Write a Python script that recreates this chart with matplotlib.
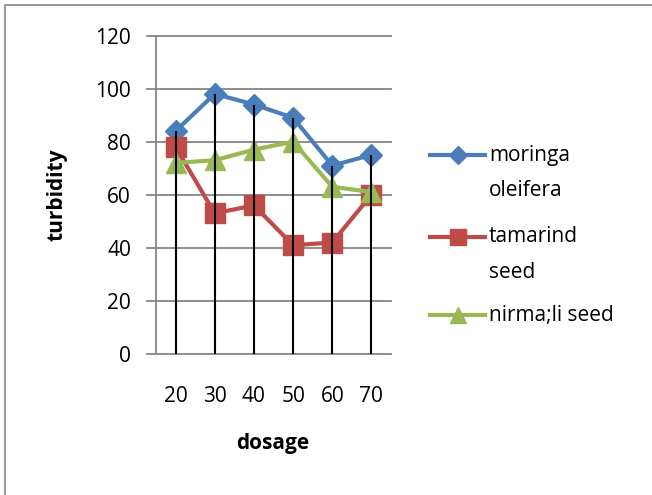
import numpy as np
import matplotlib.pyplot as plt
from matplotlib.patches import Rectangle
from matplotlib.lines import Line2D

plt.rcParams['font.family'] = ['Open Sans', 'DejaVu Sans']

dosage = ['20', '30', '40', '50', '60', '70']
moringa = [84, 98, 94, 89, 71, 75]
tamarind = [78, 53, 56, 41, 42, 60]
nirmali = [72, 73, 77, 80, 63, 61]
labels = ['moringa\noleifera', 'tamarind\nseed', 'nirma;li seed']

blue = '#4a7ebb'
red = '#be4b48'
green = '#98b954'
grid = '#868686'
fs = 15

W, H = 652, 495
fig = plt.figure(figsize=(W / 100, H / 100), dpi=100)
ax = fig.add_axes([156 / W, 1 - 354 / H, 235 / W, (354 - 35.5) / H])

x = np.arange(len(dosage))

# horizontal gridlines that also stick out to the left as tick marks
for v in range(0, 121, 20):
    ax.plot([-0.72, 5.5], [v, v], color=grid, lw=1.3, clip_on=False, zorder=1)

styles = [(moringa, blue, 'D', 11), (tamarind, red, 's', 14), (nirmali, green, '^', 14)]
for vals, c, m, ms in styles:
    ax.plot(x, vals, color=c, lw=3, marker=m, ms=ms, zorder=3)

# drop lines from the highest point down to zero
top = np.max([moringa, tamarind, nirmali], axis=0)
ax.vlines(x, 0, top, color='black', lw=1.5, zorder=4)

ax.set_xlim(-0.5, 5.5)
ax.set_ylim(0, 120)
ax.set_yticks(range(0, 121, 20))
ax.set_xticks(x)
ax.set_xticklabels(dosage)
ax.tick_params(axis='y', length=0, pad=18, labelsize=fs)
ax.tick_params(axis='x', length=0, pad=23, labelsize=fs)
for s in ['top', 'right', 'bottom']:
    ax.spines[s].set_visible(False)
ax.spines['left'].set_color(grid)
ax.spines['left'].set_linewidth(1.3)
ax.set_ylabel('turbidity', fontsize=fs, fontweight='bold')
ax.yaxis.set_label_coords(67 / W, 1 - 195 / H, transform=fig.transFigure)
ax.set_xlabel('dosage', fontsize=fs, fontweight='bold')
ax.xaxis.set_label_coords(273 / W, 1 - 433 / H, transform=fig.transFigure)

# legend, drawn by hand so each handle sits on the first line of its label
rows = [155, 237, 315]
for (vals, c, m, ms), lab, yp in zip(styles, labels, rows):
    yf = 1 - yp / H
    fig.add_artist(Line2D([430 / W, 485 / W], [yf, yf], color=c, lw=3))
    fig.add_artist(Line2D([458 / W], [yf], color=c, marker=m, ms=ms * 0.85, lw=0))
    for i, line in enumerate(lab.split('\n')):
        fig.text(489 / W, 1 - (yp + 35 * i) / H, line, fontsize=fs,
                 va='center', ha='left')

# outer chart border, running off the right and bottom edges
fig.patches.append(Rectangle((5 / W, -0.1), 1.2, 1.1 - 5 / H,
                             transform=fig.transFigure, fill=False,
                             edgecolor='#888888', lw=1.2))

fig.savefig('out.png', dpi=100)
